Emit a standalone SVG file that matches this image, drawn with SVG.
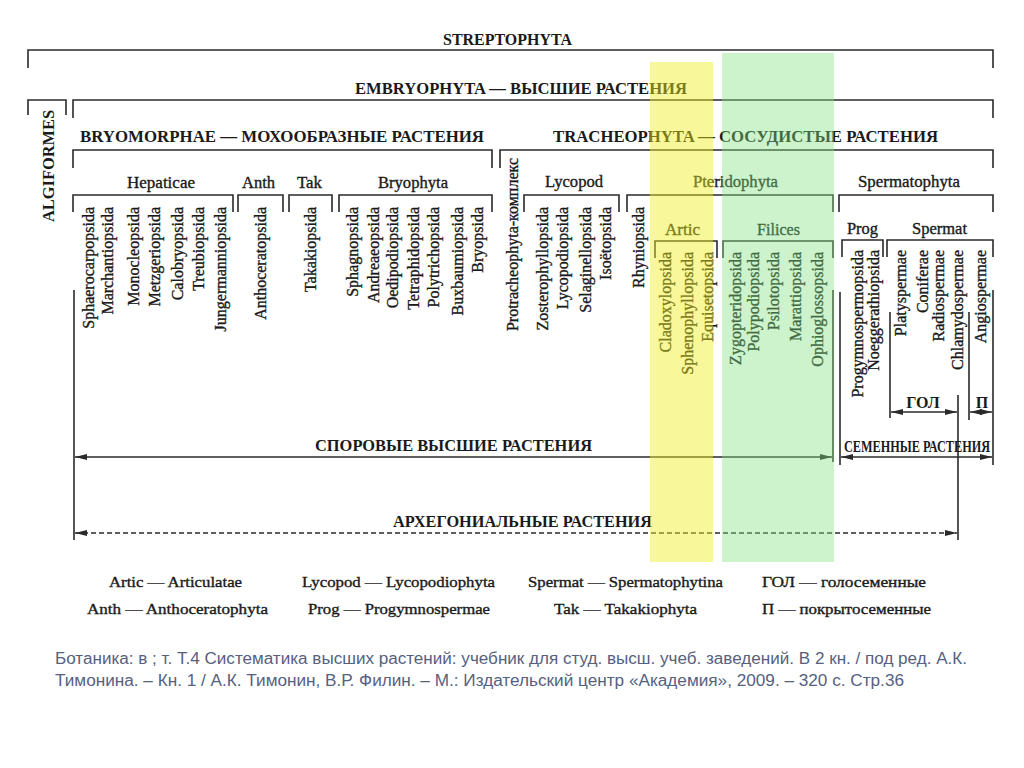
<svg xmlns="http://www.w3.org/2000/svg" width="1024" height="768" viewBox="0 0 1024 768">
<defs>
<style>
.ln{stroke:#2a2a2a;stroke-width:1.6;fill:none}
.h{font-family:"Liberation Serif","Times New Roman",serif;font-weight:bold;font-size:16px;fill:#1a1a1a}
.l{font-family:"Liberation Serif","Times New Roman",serif;font-size:16px;fill:#1a1a1a;stroke:#1a1a1a;stroke-width:0.35px}
.v{font-family:"Liberation Serif","Times New Roman",serif;font-size:16px;fill:#1a1a1a;stroke:#1a1a1a;stroke-width:0.35px;text-anchor:end}
.g{font-family:"Liberation Serif","Times New Roman",serif;font-size:15px;fill:#1a1a1a;stroke:#1a1a1a;stroke-width:0.35px}
.cap{font-family:"Liberation Sans",Arial,sans-serif;font-size:16px;fill:#56617f}
.arr{stroke:#2a2a2a;stroke-width:1.4;fill:none;marker-start:url(#ah);marker-end:url(#ah)}
</style>
<marker id="ah" viewBox="0 0 12 6" refX="12" refY="3" markerWidth="12" markerHeight="6" markerUnits="userSpaceOnUse" orient="auto-start-reverse">
<path d="M0,0 L12,3 L0,6 z" fill="#2a2a2a"/>
</marker>
</defs>
<rect width="1024" height="768" fill="#ffffff"/>

<g id="connectors">
<path class="ln" d="M28 68 V50 H993 V68"/>
<path class="ln" d="M28 115 V100 H66 V115"/>
<path class="ln" d="M73 118 V100 H993 V118"/>
<path class="ln" d="M73 168 V150 H492 V168"/>
<path class="ln" d="M500 168 V150 H993 V168"/>
<path class="ln" d="M73 212 V195 H233 V212"/>
<path class="ln" d="M238 212 V195 H283 V212"/>
<path class="ln" d="M289 212 V195 H332 V212"/>
<path class="ln" d="M339 212 V195 H492 V212"/>
<path class="ln" d="M524 212 V195 H619 V212"/>
<path class="ln" d="M627 212 V195 H833 V212"/>
<path class="ln" d="M839 212 V195 H993 V212"/>
<path class="ln" d="M655 258 V241 H717 V258"/>
<path class="ln" d="M723 258 V241 H833 V258"/>
<path class="ln" d="M842 257 V240 H883 V257"/>
<path class="ln" d="M887 257 V240 H993 V257"/>
<path class="ln" d="M74 290 V540"/>
<path class="ln" d="M833 290 V462"/>
<path class="ln" d="M840 292 V465"/>
<path class="ln" d="M993 290 V465"/>
<path class="ln" d="M890 312 V418"/>
<path class="ln" d="M969 312 V420"/>
<path class="ln" d="M958 395 V540"/>
<line class="arr" x1="75" y1="457" x2="832" y2="457"/>
<line class="arr" x1="841" y1="457" x2="992" y2="457"/>
<line class="arr" x1="891" y1="412" x2="957" y2="412"/>
<line class="arr" x1="970" y1="412" x2="992" y2="412"/>
<line class="arr" x1="75" y1="533" x2="957" y2="533" stroke-dasharray="5 3"/>
</g>

<g id="headers">
<text class="h" x="443" y="45" textLength="129" lengthAdjust="spacingAndGlyphs">STREPTOPHYTA</text>
<text class="h" x="355" y="94" textLength="332" lengthAdjust="spacingAndGlyphs">EMBRYOPHYTA — ВЫСШИЕ РАСТЕНИЯ</text>
<text class="h" x="80" y="142" textLength="404" lengthAdjust="spacingAndGlyphs">BRYOMORPHAE — МОХООБРАЗНЫЕ РАСТЕНИЯ</text>
<text class="h" x="553" y="142" textLength="385" lengthAdjust="spacingAndGlyphs">TRACHEOPHYTA — СОСУДИСТЫЕ РАСТЕНИЯ</text>
<text class="h" transform="translate(48,166) rotate(-90)" text-anchor="middle" dy="0.35em" textLength="112" lengthAdjust="spacingAndGlyphs">ALGIFORMES</text>
<text class="h" x="315" y="451" textLength="277" lengthAdjust="spacingAndGlyphs">СПОРОВЫЕ ВЫСШИЕ РАСТЕНИЯ</text>
<text class="h" x="393" y="527" textLength="259" lengthAdjust="spacingAndGlyphs">АРХЕГОНИАЛЬНЫЕ РАСТЕНИЯ</text>
<text class="h" x="844" y="452" font-size="13" textLength="146" lengthAdjust="spacingAndGlyphs">СЕМЕННЫЕ РАСТЕНИЯ</text>
<text class="h" x="923" y="408" font-size="14" text-anchor="middle">ГОЛ</text>
<text class="h" x="982" y="408" font-size="14" text-anchor="middle">П</text>
</g>

<g id="group-labels">
<text class="l" x="127" y="188" textLength="68" lengthAdjust="spacingAndGlyphs">Hepaticae</text>
<text class="l" x="242" y="188" textLength="33" lengthAdjust="spacingAndGlyphs">Anth</text>
<text class="l" x="297" y="188" textLength="25" lengthAdjust="spacingAndGlyphs">Tak</text>
<text class="l" x="378" y="188" textLength="70" lengthAdjust="spacingAndGlyphs">Bryophyta</text>
<text class="l" x="545" y="187" textLength="58" lengthAdjust="spacingAndGlyphs">Lycopod</text>
<text class="l" x="693" y="187" textLength="85" lengthAdjust="spacingAndGlyphs">Pteridophyta</text>
<text class="l" x="858" y="187" textLength="102" lengthAdjust="spacingAndGlyphs">Spermatophyta</text>
<text class="l" x="665" y="235" textLength="35" lengthAdjust="spacingAndGlyphs">Artic</text>
<text class="l" x="757" y="235" textLength="43" lengthAdjust="spacingAndGlyphs">Filices</text>
<text class="l" x="847" y="234" textLength="31" lengthAdjust="spacingAndGlyphs">Prog</text>
<text class="l" x="912" y="234" textLength="55" lengthAdjust="spacingAndGlyphs">Spermat</text>
</g>

<g id="taxa">
<text class="v" transform="translate(88,207) rotate(-90)" dy="0.35em">Sphaerocarpopsida</text>
<text class="v" transform="translate(107,207) rotate(-90)" dy="0.35em">Marchantiopsida</text>
<text class="v" transform="translate(133,207) rotate(-90)" dy="0.35em">Monocleopsida</text>
<text class="v" transform="translate(154,207) rotate(-90)" dy="0.35em">Metzgeriopsida</text>
<text class="v" transform="translate(177,207) rotate(-90)" dy="0.35em">Calobryopsida</text>
<text class="v" transform="translate(198,207) rotate(-90)" dy="0.35em">Treubiopsida</text>
<text class="v" transform="translate(220,207) rotate(-90)" dy="0.35em">Jungermanniopsida</text>
<text class="v" transform="translate(260,207) rotate(-90)" dy="0.35em">Anthoceratopsida</text>
<text class="v" transform="translate(310,207) rotate(-90)" dy="0.35em">Takakiopsida</text>
<text class="v" transform="translate(352,207) rotate(-90)" dy="0.35em">Sphagnopsida</text>
<text class="v" transform="translate(373,207) rotate(-90)" dy="0.35em">Andreaeopsida</text>
<text class="v" transform="translate(392,207) rotate(-90)" dy="0.35em">Oedipodiopsida</text>
<text class="v" transform="translate(413,207) rotate(-90)" dy="0.35em">Tetraphidopsida</text>
<text class="v" transform="translate(433,207) rotate(-90)" dy="0.35em">Polytrichopsida</text>
<text class="v" transform="translate(457,207) rotate(-90)" dy="0.35em">Buxbaumiopsida</text>
<text class="v" transform="translate(477,207) rotate(-90)" dy="0.35em">Bryopsida</text>
<text class="v" transform="translate(512,158) rotate(-90)" dy="0.35em">Protracheophyta-комплекс</text>
<text class="v" transform="translate(542,207) rotate(-90)" dy="0.35em">Zosterophyllopsida</text>
<text class="v" transform="translate(562,207) rotate(-90)" dy="0.35em">Lycopodiopsida</text>
<text class="v" transform="translate(585,207) rotate(-90)" dy="0.35em">Selaginellopsida</text>
<text class="v" transform="translate(605,207) rotate(-90)" dy="0.35em">Isoëtopsida</text>
<text class="v" transform="translate(638,207) rotate(-90)" dy="0.35em">Rhyniopsida</text>
<text class="v" transform="translate(665,252) rotate(-90)" dy="0.35em">Cladoxylopsida</text>
<text class="v" transform="translate(687,252) rotate(-90)" dy="0.35em">Sphenophyllopsida</text>
<text class="v" transform="translate(707,252) rotate(-90)" dy="0.35em">Equisetopsida</text>
<text class="v" transform="translate(735,252) rotate(-90)" dy="0.35em">Zygopteridopsida</text>
<text class="v" transform="translate(753,252) rotate(-90)" dy="0.35em">Polypodiopsida</text>
<text class="v" transform="translate(773,252) rotate(-90)" dy="0.35em">Psilotopsida</text>
<text class="v" transform="translate(795,252) rotate(-90)" dy="0.35em">Marattiopsida</text>
<text class="v" transform="translate(817,252) rotate(-90)" dy="0.35em">Ophioglossopsida</text>
<text class="v" transform="translate(857,250) rotate(-90)" dy="0.35em">Progymnospermopsida</text>
<text class="v" transform="translate(873,250) rotate(-90)" dy="0.35em">Noeggerathiopsida</text>
<text class="v" transform="translate(900,250) rotate(-90)" dy="0.35em">Platyspermae</text>
<text class="v" transform="translate(922,250) rotate(-90)" dy="0.35em">Coniferae</text>
<text class="v" transform="translate(938,250) rotate(-90)" dy="0.35em">Radiospermae</text>
<text class="v" transform="translate(957,250) rotate(-90)" dy="0.35em">Chlamydospermae</text>
<text class="v" transform="translate(980,250) rotate(-90)" dy="0.35em">Angiospermae</text>
</g>

<g id="highlights">
<rect x="650" y="62" width="63" height="500" fill="#f0f020" opacity="0.45"/>
<rect x="722" y="53" width="112" height="509" fill="#80e080" opacity="0.4"/>
</g>

<g id="legend">
<text class="g" x="109" y="587" textLength="133" lengthAdjust="spacingAndGlyphs">Artic — Articulatae</text>
<text class="g" x="302" y="587" textLength="193" lengthAdjust="spacingAndGlyphs">Lycopod — Lycopodiophyta</text>
<text class="g" x="528" y="587" textLength="195" lengthAdjust="spacingAndGlyphs">Spermat — Spermatophytina</text>
<text class="g" x="762" y="587" textLength="164" lengthAdjust="spacingAndGlyphs">ГОЛ — голосеменные</text>
<text class="g" x="87" y="614" textLength="181" lengthAdjust="spacingAndGlyphs">Anth — Anthoceratophyta</text>
<text class="g" x="308" y="614" textLength="182" lengthAdjust="spacingAndGlyphs">Prog — Progymnospermae</text>
<text class="g" x="554" y="614" textLength="143" lengthAdjust="spacingAndGlyphs">Tak — Takakiophyta</text>
<text class="g" x="762" y="614" textLength="169" lengthAdjust="spacingAndGlyphs">П — покрытосеменные</text>
</g>

<g id="caption">
<text class="cap" x="55" y="664" textLength="912" lengthAdjust="spacingAndGlyphs">Ботаника: в ; т. Т.4 Систематика высших растений: учебник для студ. высш. учеб. заведений. В 2 кн. / под ред. А.К.</text>
<text class="cap" x="55" y="686" textLength="849" lengthAdjust="spacingAndGlyphs">Тимонина. – Кн. 1 / А.К. Тимонин, В.Р. Филин. – М.: Издательский центр «Академия», 2009. – 320 с. Стр.36</text>
</g>
</svg>
